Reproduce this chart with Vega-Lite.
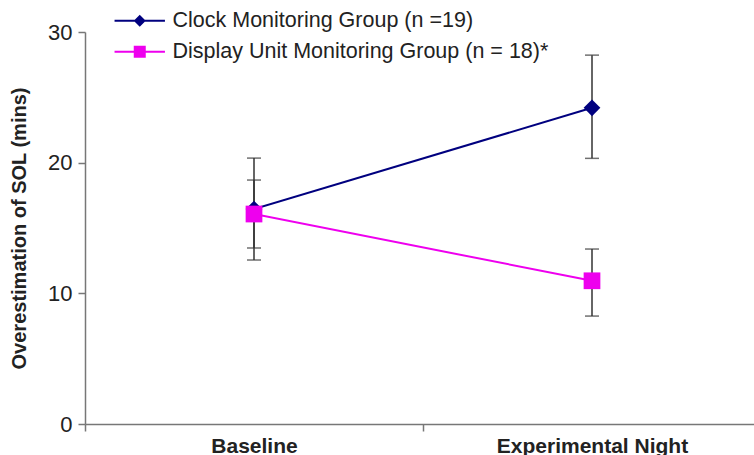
{
  "$schema": "https://vega.github.io/schema/vega-lite/v6.json",
  "width": 676,
  "height": 392,
  "autosize": {"type": "none"},
  "padding": {"left": 85, "top": 32, "right": 0, "bottom": 31},
  "background": "white",
  "config": {
    "view": {"stroke": null},
    "font": "Liberation Sans",
    "axis": {"grid": false, "domainColor": "#777", "tickColor": "#777", "domainWidth": 1.5, "tickWidth": 1.5, "labelColor": "#222", "titleColor": "#222"}
  },
  "data": {
    "values": [
      {"group": "Clock Monitoring Group (n =19)", "night": "Baseline", "mean": 16.45, "lo": 12.55, "hi": 20.35},
      {"group": "Clock Monitoring Group (n =19)", "night": "Experimental Night", "mean": 24.2, "lo": 20.33, "hi": 28.23},
      {"group": "Display Unit Monitoring Group (n = 18)*", "night": "Baseline", "mean": 16.07, "lo": 13.47, "hi": 18.67},
      {"group": "Display Unit Monitoring Group (n = 18)*", "night": "Experimental Night", "mean": 10.96, "lo": 8.26, "hi": 13.39}
    ]
  },
  "encoding": {
    "x": {
      "field": "night", "type": "nominal", "sort": ["Baseline", "Experimental Night"],
      "scale": {"paddingInner": 0, "paddingOuter": 0},
      "axis": {"title": null, "labelAngle": 0, "tickBand": "extent", "tickSize": 7, "labelFontSize": 21, "labelFontWeight": "bold", "labelPadding": 4, "labelLimit": 0}
    },
    "y": {
      "field": "mean", "type": "quantitative",
      "scale": {"domain": [0, 30], "nice": false},
      "axis": {"title": "Overestimation of SOL (mins)", "values": [0, 10, 20, 30], "tickSize": 7, "labelFontSize": 22, "labelPadding": 6, "titleFontSize": 20, "titleFontWeight": "bold", "titlePadding": 18}
    }
  },
  "layer": [
    {
      "mark": {"type": "rule", "color": "#333", "strokeWidth": 1.5},
      "encoding": {
        "y": {"field": "lo", "type": "quantitative"},
        "y2": {"field": "hi"}
      }
    },
    {
      "mark": {"type": "tick", "color": "#333", "size": 14, "thickness": 1.5},
      "encoding": {"y": {"field": "lo", "type": "quantitative"}}
    },
    {
      "mark": {"type": "tick", "color": "#333", "size": 14, "thickness": 1.5},
      "encoding": {"y": {"field": "hi", "type": "quantitative"}}
    },
    {
      "mark": {"type": "line", "strokeWidth": 2},
      "encoding": {
        "color": {
          "field": "group", "type": "nominal",
          "scale": {"domain": ["Clock Monitoring Group (n =19)", "Display Unit Monitoring Group (n = 18)*"], "range": ["#00007F", "#EE00EE"]},
          "legend": {
            "title": null, "orient": "none", "legendX": 44, "legendY": -22,
            "labelFontSize": 21.5, "labelColor": "#222", "labelLimit": 0, "symbolSize": 144, "labelOffset": 22, "rowPadding": 8,
            "encode": {
              "symbols": {
                "update": {
                  "shape": {"signal": "datum.value === 'Clock Monitoring Group (n =19)' ? 'M-4.2,-0.17L4.2,-0.17L4.2,0.17L-4.2,0.17ZM-1,0L0,-1L1,0L0,1Z' : 'M-4.2,-0.17L4.2,-0.17L4.2,0.17L-4.2,0.17ZM-1,-1L1,-1L1,1L-1,1Z'"},
                  "fill": {"scale": "color", "field": "value"},
                  "fillOpacity": {"value": 1},
                  "stroke": {"value": "transparent"},
                  "strokeWidth": {"value": 0},
                  "size": {"value": 144},
                  "opacity": {"value": 1}
                }
              }
            }
          }
        }
      }
    },
    {
      "transform": [{"filter": "datum.group === 'Clock Monitoring Group (n =19)'"}],
      "mark": {"type": "point", "filled": true, "opacity": 1, "size": 280, "shape": "diamond"},
      "encoding": {
        "color": {"field": "group", "type": "nominal", "legend": null}
      }
    },
    {
      "transform": [{"filter": "datum.group !== 'Clock Monitoring Group (n =19)'"}],
      "mark": {"type": "point", "filled": true, "opacity": 1, "size": 280, "shape": "square"},
      "encoding": {
        "color": {"field": "group", "type": "nominal", "legend": null}
      }
    }
  ]
}
